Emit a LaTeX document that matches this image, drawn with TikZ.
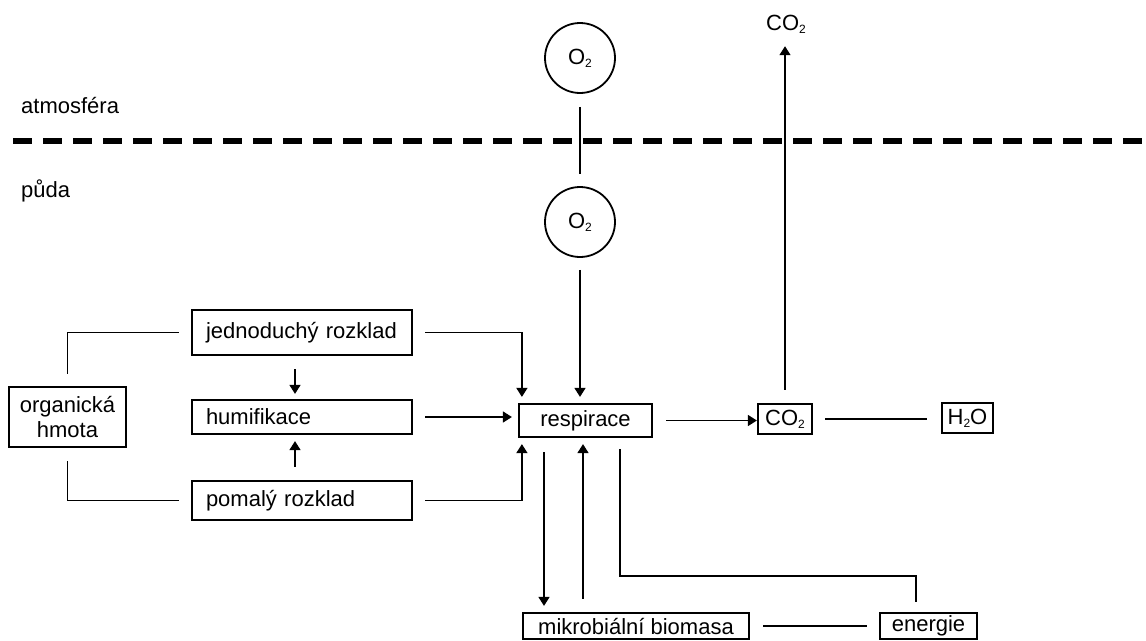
\documentclass[tikz,border=0pt]{standalone}
\usepackage{fontspec}
\setmainfont{Liberation Sans}
\usetikzlibrary{arrows.meta}
\newcommand{\sbfont}{\fontsize{22}{25}\selectfont}
\newcommand{\lowtwo}{\raisebox{-3pt}{\fontsize{12}{12}\selectfont 2}}
\newcommand{\sbboxnode}[5] {\node at (#1) (#2) [sbbox, minimum width=#3, minimum height=#4] {#5};}
\newcommand{\sbleftnode}[4] {\node at (#1) (#2) [sbleft, minimum height=#3] {#4};}
\newcommand{\sbgasnode}[2] {\node at (#1) (#2) [sbgas] {O\lowtwo};}
\newcommand{\sblabel}[3] {\node at (#1) (#2) [anchor=base west, inner sep=0pt, font=\sbfont] {#3};}

\begin{document}
\begin{tikzpicture}[x=1pt, y=-1pt,
  sbbox/.style={draw, line width=2.2pt, inner sep=0pt, align=center, font=\sbfont},
  sbleft/.style={sbbox, text width=192pt, inner xsep=14pt, inner ysep=0pt, align=left},
  sbgas/.style={circle, draw, line width=1.8pt, minimum size=70pt, inner sep=0pt, font=\sbfont},
  sbline/.style={line width=1.4pt},
  sbarrow/.style={sbline, -{Triangle[length=9pt, width=11pt]}}]
\useasboundingbox (0,0) rectangle (1146,640);

\sblabel {21,113} {atm} {atmosféra};
\sblabel {21,197} {puda} {půda};
\sblabel {766,30} {co2t} {CO\lowtwo};
\draw [line width=6pt, dash pattern=on 19pt off 11pt] (13,141) -- (1160,141);

\sbgasnode {580,58} {o2a};
\sbgasnode {580,222} {o2b};

\sbboxnode {67.5,417} {org} {117pt} {60pt} {organická\\hmota};
\sbleftnode {302,332.5} {jed} {45pt} {jednoduchý rozklad};
\sbleftnode {302,417} {hum} {34pt} {humifikace};
\sbleftnode {302,500.5} {pom} {39pt} {pomalý rozklad};
\sbboxnode {585.5,420.5} {resp} {133pt} {33pt} {respirace};
\sbboxnode {785,419} {co2b} {54pt} {30pt} {CO\lowtwo};
\sbboxnode {967.5,418} {h2o} {51pt} {30pt} {H\lowtwo O};
\sbboxnode {636,626} {mik} {226pt} {26pt} {mikrobiální biomasa};
\sbboxnode {928.5,626} {ene} {97pt} {26pt} {energie};

% kyslik
\draw [sbline, shorten <=13pt, shorten >=12pt] (o2a) -- (o2b);
\draw [sbarrow, shorten <=12pt, shorten >=6pt] (o2b.south) -- (o2b.south |- resp.north);

% organicka hmota
\draw [sbline] ([yshift=12pt]org.north) |- ([xshift=-12pt]jed.west);
\draw [sbline] ([yshift=-13pt]org.south) |- ([xshift=-12pt]pom.west);
\draw [sbarrow, shorten <=13pt, shorten >=5pt] ([xshift=-7pt]jed.south) -- ([xshift=-7pt]hum.north);
\draw [sbarrow, shorten <=13pt, shorten >=6pt] ([xshift=-7pt]pom.north) -- ([xshift=-7pt]hum.south);
\draw [sbarrow, shorten >=6pt] ([xshift=12pt]jed.east) -| ([xshift=4pt]resp.north west);
\draw [sbarrow, shorten >=6pt] ([xshift=12pt]hum.east) -- (hum.east -| resp.west);
\draw [sbarrow, shorten >=6pt] ([xshift=12pt]pom.east) -| ([xshift=4pt]resp.south west);

% produkty
\draw [sbarrow] ([xshift=13pt]resp.east) -- (resp.east -| co2b.west);
\draw [sbarrow, shorten <=13pt, shorten >=13pt] (co2b.north) -- (co2b.north |- co2t.south);
\draw [sbline, shorten <=12pt, shorten >=14pt] (co2b.east) -- (co2b.east -| h2o.west);
\draw [sbarrow, shorten <=14pt, shorten >=6pt] ([xshift=-41.5pt]resp.south) -- ([xshift=-92pt]mik.north);
\draw [sbarrow, shorten <=13pt, shorten >=6pt] ([xshift=-53pt]mik.north) -- ([xshift=-2.5pt]resp.south);
\draw [sbline, shorten <=11pt, shorten >=10pt] ([xshift=34.5pt]resp.south) -- ++(0,138) -| ([xshift=-12.5pt]ene.north);
\draw [sbline, shorten <=13pt, shorten >=12pt] (mik.east) -- (ene.west);

%\node at (580,300) {};
\end{tikzpicture}
\end{document}
